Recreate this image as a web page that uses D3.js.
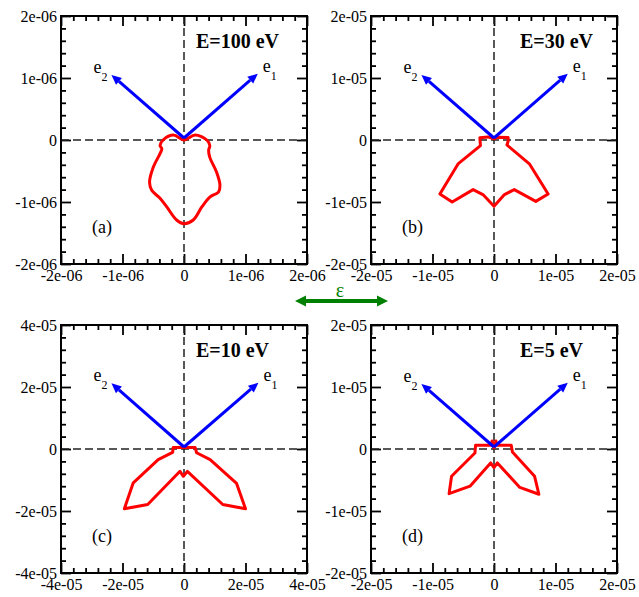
<!DOCTYPE html>
<html>
<head>
<meta charset="utf-8">
<script src="https://cdn.jsdelivr.net/npm/d3@7"></script>
<style>
  body { margin: 0; background: #fff; }
  svg { display: block; font-family: 'Liberation Serif', serif; }
  .tick text { font-family: 'Liberation Serif', serif; font-size: 16px; fill: #000; }
  .tick line { stroke: #000; stroke-width: 1.8; }
</style>
</head>
<body>
<svg id="chart" width="639" height="597"></svg>
<script>
// panel titles / tags
const panelTitles = ["E=100 eV", "E=30 eV", "E=10 eV", "E=5 eV"];
const panelTags = ["(a)", "(b)", "(c)", "(d)"];

// axis ranges (same for x and y in each panel)
const axisMax = [2e-6, 2e-5, 4e-5, 2e-5];
const majorStep = [1e-6, 1e-5, 2e-5, 1e-5];
const minorStep = [2e-7, 2e-6, 4e-6, 2e-6];
const tickLabelsA = ["-2e-06", "-1e-06", "0", "1e-06", "2e-06"];
const tickLabelsB = ["-2e-05", "-1e-05", "0", "1e-05", "2e-05"];
const tickLabelsC = ["-4e-05", "-2e-05", "0", "2e-05", "4e-05"];
const tickLabelsD = ["-2e-05", "-1e-05", "0", "1e-05", "2e-05"];

// basis vectors e1, e2 (arrow tips)
const e1Tip = [[1.2e-6, 1.07e-6], [1.2e-5, 1.07e-5], [2.42e-5, 2.14e-5], [1.2e-5, 1.07e-5]];
const e2Tip = [[-1.18e-6, 1.05e-6], [-1.18e-5, 1.05e-5], [-2.36e-5, 2.12e-5], [-1.18e-5, 1.05e-5]];

// red curves
const curveAx = [0, 0.18, 0.37, 0.42, 0.4, 0.42, 0.53, 0.585, 0.56, 0.42, 0.29, 0.15, 0, -0.12, -0.28, -0.39, -0.525, -0.56, -0.5, -0.39, -0.36, -0.39, -0.34, -0.17].map(v => v * 1e-6);
const curveAy = [0.0, 0.08, 0.0, -0.09, -0.17, -0.28, -0.52, -0.73, -0.84, -0.92, -1.08, -1.29, -1.35, -1.29, -1.08, -0.94, -0.81, -0.68, -0.44, -0.22, -0.14, -0.09, 0.0, 0.08].map(v => v * 1e-6);

const curveBx = [0, 0.06, 0.23, 0.23, 0.21, 0.58, 0.88, 0.68, 0.33, 0.17, 0, -0.18, -0.34, -0.68, -0.88, -0.58, -0.22, -0.23, -0.1].map(v => v * 1e-5);
const curveBy = [0.02, 0.045, 0.04, -0.02, -0.08, -0.39, -0.87, -0.99, -0.8, -0.88, -1.07, -0.88, -0.8, -1.0, -0.87, -0.38, -0.09, 0.035, 0.05].map(v => v * 1e-5);

const curveCx = [0, 0.36, 0.41, 0.85, 1.71, 2.0, 1.26, 0.11, -0.02, -0.13, -1.18, -1.94, -1.65, -0.84, -0.37, -0.35].map(v => v * 1e-5);
const curveCy = [0.05, 0.05, -0.12, -0.34, -1.11, -1.93, -1.79, -0.72, -0.88, -0.72, -1.79, -1.93, -1.09, -0.34, -0.11, 0.05].map(v => v * 1e-5);

const curveDx = [0, 0.03, 0.05, 0.28, 0.3, 0.66, 0.73, 0.42, 0.055, 0, -0.055, -0.39, -0.73, -0.69, -0.31, -0.3, -0.05, -0.03].map(v => v * 1e-5);
const curveDy = [0.02, 0.13, 0.06, 0.06, -0.05, -0.44, -0.73, -0.62, -0.225, -0.3, -0.225, -0.6, -0.72, -0.44, -0.065, 0.06, 0.06, 0.13].map(v => v * 1e-5);

const tickLabels = [tickLabelsA, tickLabelsB, tickLabelsC, tickLabelsD];
const curvesX = [curveAx, curveBx, curveCx, curveDx];
const curvesY = [curveAy, curveBy, curveCy, curveDy];

const svg = d3.select("#chart");
const serif = "Liberation Serif";

// panel layout
const panelLeft = [61, 371, 61, 371];
const panelTop = [16, 16, 325, 325];
const pw = 246, ph = 248;
const titleOffset = [135, 149, 135, 149];

function arrowHead(g, x1, y1, x2, y2, len, half, color) {
  const a = Math.atan2(y2 - y1, x2 - x1);
  const bx = x2 - len * Math.cos(a), by = y2 - len * Math.sin(a);
  const px = -Math.sin(a) * half, py = Math.cos(a) * half;
  g.append("polygon")
    .attr("points", [[x2, y2], [bx + px, by + py], [bx - px, by - py]].map(p => p.join(",")).join(" "))
    .attr("fill", color);
  return [bx, by];
}

panelTitles.forEach((title, i) => {
  const m = axisMax[i];
  const L = panelLeft[i], T = panelTop[i];
  const x = d3.scaleLinear().domain([-m, m]).range([L, L + pw]);
  const y = d3.scaleLinear().domain([-m, m]).range([T + ph, T]);
  const g = svg.append("g");

  const major = d3.range(-m, m + majorStep[i] / 2, majorStep[i]);
  const minor = d3.range(-m, m + minorStep[i] / 2, minorStep[i])
    .filter(v => major.every(mv => Math.abs(mv - v) > minorStep[i] / 10));
  const labs = tickLabels[i];

  // labelled axes
  g.append("g").attr("transform", `translate(0,${T + ph})`)
    .call(d3.axisBottom(x).tickValues(major).tickFormat((d, k) => labs[k]).tickSizeInner(-10).tickSizeOuter(0).tickPadding(6));
  g.append("g").attr("transform", `translate(${L},0)`)
    .call(d3.axisLeft(y).tickValues(major).tickFormat((d, k) => labs[k]).tickSizeInner(-10).tickSizeOuter(0).tickPadding(4));
  g.append("g").attr("transform", `translate(0,${T})`)
    .call(d3.axisTop(x).tickValues(major).tickFormat("").tickSizeInner(-10).tickSizeOuter(0));
  g.append("g").attr("transform", `translate(${L + pw},0)`)
    .call(d3.axisRight(y).tickValues(major).tickFormat("").tickSizeInner(-10).tickSizeOuter(0));
  // minor ticks
  g.append("g").attr("transform", `translate(0,${T + ph})`)
    .call(d3.axisBottom(x).tickValues(minor).tickFormat("").tickSizeInner(-5).tickSizeOuter(0));
  g.append("g").attr("transform", `translate(${L},0)`)
    .call(d3.axisLeft(y).tickValues(minor).tickFormat("").tickSizeInner(-5).tickSizeOuter(0));
  g.append("g").attr("transform", `translate(0,${T})`)
    .call(d3.axisTop(x).tickValues(minor).tickFormat("").tickSizeInner(-5).tickSizeOuter(0));
  g.append("g").attr("transform", `translate(${L + pw},0)`)
    .call(d3.axisRight(y).tickValues(minor).tickFormat("").tickSizeInner(-5).tickSizeOuter(0));
  g.selectAll(".domain").remove();
  g.selectAll("g").attr("font-family", serif).attr("font-size", 16);

  // dashed zero lines
  g.append("line").attr("x1", L).attr("x2", L + pw).attr("y1", y(0)).attr("y2", y(0))
    .attr("stroke", "#222").attr("stroke-width", 1.5).attr("stroke-dasharray", "8,4");
  g.append("line").attr("x1", x(0)).attr("x2", x(0)).attr("y1", T).attr("y2", T + ph)
    .attr("stroke", "#222").attr("stroke-width", 1.5).attr("stroke-dasharray", "8,4");

  // red curve
  const pts = curvesX[i].map((v, k) => [v, curvesY[i][k]]);
  const line = d3.line().x(d => x(d[0])).y(d => y(d[1]))
    .curve(i === 0 ? d3.curveCatmullRomClosed.alpha(0.5) : d3.curveLinearClosed);
  g.append("path").attr("d", line(pts))
    .attr("fill", "none").attr("stroke", "#ff0000").attr("stroke-width", 3).attr("stroke-linejoin", "round");

  // basis arrows
  [[e1Tip[i], "1", 1], [e2Tip[i], "2", -1]].forEach(([tip, sub, side]) => {
    const x0 = x(0), y0 = y(0) - 2, x1 = x(tip[0]), y1 = y(tip[1]);
    const base = arrowHead(g, x0, y0, x1, y1, 10, 4.5, "#0000ff");
    g.append("line").attr("x1", x0).attr("y1", y0).attr("x2", base[0]).attr("y2", base[1])
      .attr("stroke", "#0000ff").attr("stroke-width", 3);
    const t = g.append("text")
      .attr("x", side > 0 ? x1 + 5 : x1 - 4).attr("y", y1 - 2)
      .attr("text-anchor", side > 0 ? "start" : "end")
      .attr("font-family", serif).attr("font-size", 18);
    t.append("tspan").text("e");
    t.append("tspan").attr("dy", 8).attr("font-size", 12).text(sub);
  });

  // frame
  g.append("rect").attr("x", L).attr("y", T).attr("width", pw).attr("height", ph)
    .attr("fill", "none").attr("stroke", "#000").attr("stroke-width", 2);

  // title & tag
  g.append("text").attr("x", L + titleOffset[i]).attr("y", T + 32)
    .attr("font-family", serif).attr("font-weight", "bold").attr("font-size", 20).text(title);
  g.append("text").attr("x", L + 31).attr("y", T + 217)
    .attr("font-family", serif).attr("font-size", 18).text(panelTags[i]);
});

// polarisation arrow between the panels
const eps = svg.append("g");
const gx1 = 295, gx2 = 388, gy = 301;
arrowHead(eps, gx2, gy, gx1, gy, 11, 5.5, "#008000");
arrowHead(eps, gx1, gy, gx2, gy, 11, 5.5, "#008000");
eps.append("line").attr("x1", gx1 + 10).attr("x2", gx2 - 10).attr("y1", gy).attr("y2", gy)
  .attr("stroke", "#008000").attr("stroke-width", 4);
eps.append("text").attr("x", 340).attr("y", 297).attr("text-anchor", "middle")
  .attr("font-family", serif).attr("font-size", 20).attr("fill", "#008000").text("ε");
</script>
</body>
</html>
